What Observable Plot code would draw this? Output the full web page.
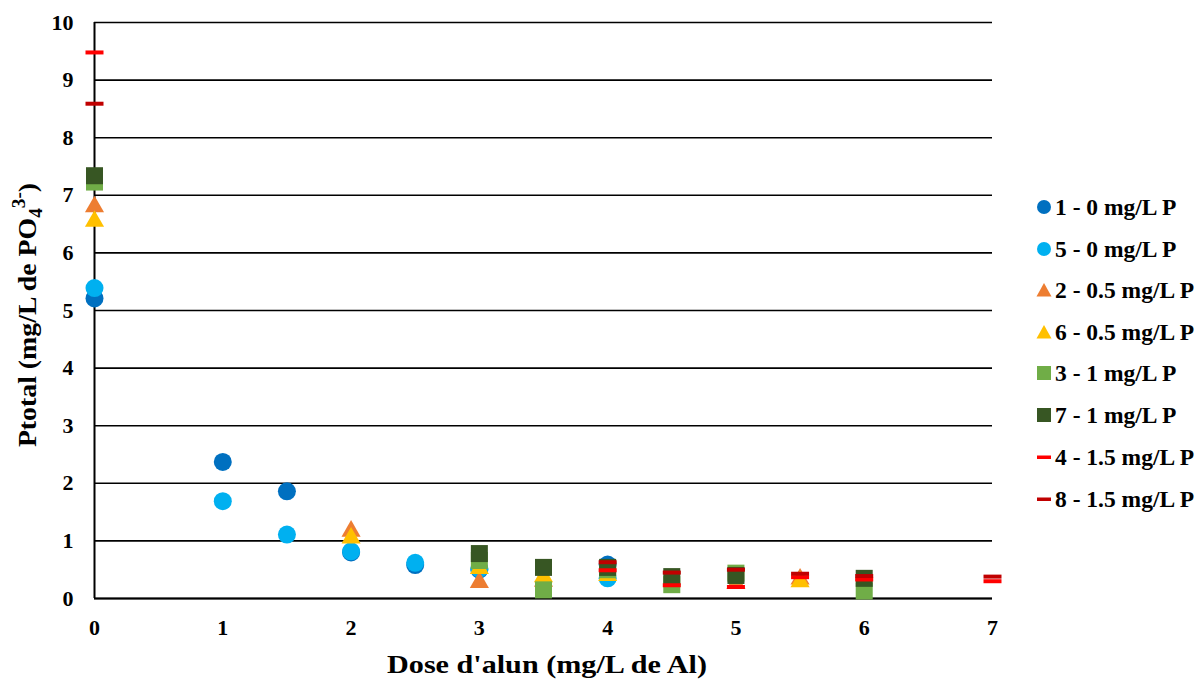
<!DOCTYPE html>
<html><head><meta charset="utf-8">
<script src="https://cdn.jsdelivr.net/npm/d3@7"></script>
<script src="https://cdn.jsdelivr.net/npm/@observablehq/plot@0.6"></script>
<style>
body{margin:0;background:#fff;}
#wrap{position:relative;width:1201px;height:679px;font-family:'Liberation Serif','DejaVu Serif',serif;}
#legend{position:absolute;left:1036px;top:0;}
.row{position:absolute;left:0;display:flex;align-items:center;white-space:nowrap;font-weight:bold;font-size:23.5px;color:#000;height:26px;font-family:'Liberation Serif','DejaVu Serif',serif;}
.row svg{margin-right:3px;}
</style></head><body><div id="wrap"><div id="chart"></div><div id="legend"></div></div>
<script>
const xTicks = [0, 1, 2, 3, 4, 5, 6, 7];
const yTicks = [0, 1, 2, 3, 4, 5, 6, 7, 8, 9, 10];
const xTitle = "Dose d'alun (mg/L de Al)";

const seriesNames = ["1 - 0 mg/L P", "5 - 0 mg/L P", "2 - 0.5 mg/L P", "6 - 0.5 mg/L P", "3 - 1 mg/L P", "7 - 1 mg/L P", "4 - 1.5 mg/L P", "8 - 1.5 mg/L P"];
const seriesColors = ["#0070C0", "#00B0F0", "#ED7D31", "#FFC000", "#70AD47", "#375623", "#FF0000", "#C00000"];
const seriesShapes = ["circle", "circle", "triangle", "triangle", "square", "square", "dash", "dash"];

const s1X = [0, 1, 1.5, 2, 2.5, 3, 4];
const s1Y = [5.21, 2.37, 1.86, 0.80, 0.58, 0.50, 0.59];
const s5X = [0, 1, 1.5, 2, 2.5, 3, 4];
const s5Y = [5.39, 1.69, 1.11, 0.82, 0.62, 0.52, 0.35];
const s2X = [0, 2, 3, 3.5, 5, 5.5];
const s2Y = [6.80, 1.17, 0.28, 0.30, 0.26, 0.34];
const s6X = [0, 2, 3, 3.5, 4, 5.5];
const s6Y = [6.55, 1.05, 0.52, 0.38, 0.40, 0.29];
const s3X = [0, 3, 3.5, 4, 4.5, 5, 6];
const s3Y = [7.23, 0.66, 0.15, 0.50, 0.24, 0.44, 0.13];
const s7X = [0, 3, 3.5, 4, 4.5, 5, 6];
const s7Y = [7.34, 0.78, 0.54, 0.54, 0.38, 0.40, 0.35];
const s4X = [0, 4, 4.5, 5, 5.5, 6, 7];
const s4Y = [9.48, 0.49, 0.23, 0.20, 0.37, 0.33, 0.30];
const s8X = [0, 4, 4.5, 5, 5.5, 6, 7];
const s8Y = [8.59, 0.63, 0.45, 0.50, 0.43, 0.39, 0.38];

const seriesX = [s1X, s5X, s2X, s6X, s3X, s7X, s4X, s8X];
const seriesY = [s1Y, s5Y, s2Y, s6Y, s3Y, s7Y, s4Y, s8Y];

const dash = {draw(ctx, size) { ctx.rect(-9, -2, 18, 4); }};
const symFor = s => s === "dash" ? dash : s;
const rFor = s => s === "circle" ? 9 : s === "triangle" ? 7.1 : s === "square" ? 9.6 : 5;

const serif = "'Liberation Serif', 'DejaVu Serif', serif";

const marks = [
  Plot.ruleY(yTicks, {x1: 0, x2: 7, y: d => d, stroke: "#000", strokeWidth: 1.6}),
  Plot.ruleX([0], {y1: 0, y2: 10, stroke: "#000", strokeWidth: 2}),
  Plot.ruleY([0], {x1: 0, x2: 7, stroke: "#000", strokeWidth: 2.2}),
  Plot.axisX({ticks: xTicks, tickSize: 0, tickPadding: 21, tickFormat: d => String(d), label: null, fontSize: 22, fontWeight: "bold", fontFamily: serif}),
  Plot.axisY({ticks: yTicks, tickSize: 0, tickPadding: 21, tickFormat: d => String(d), label: null, fontSize: 22, fontWeight: "bold", fontFamily: serif})
];
seriesNames.forEach((name, i) => {
  const data = seriesX[i].map((x, j) => ({x, y: seriesY[i][j]}));
  marks.push(Plot.dot(data, {
    x: "x", y: "y",
    symbol: symFor(seriesShapes[i]),
    r: rFor(seriesShapes[i]),
    fill: seriesColors[i], stroke: "none"
  }));
});

const chart = Plot.plot({
  width: 1201, height: 679,
  marginLeft: 94, marginRight: 209, marginTop: 22, marginBottom: 81,
  x: {domain: [0, 7], label: null},
  y: {domain: [0, 10], label: null},
  style: {fontFamily: serif, fontSize: "22px", fontWeight: "bold", color: "#000", background: "#fff"},
  marks
});
document.getElementById("chart").appendChild(chart);

const svg = d3.select(chart);
// x axis title
svg.append("text")
  .attr("transform", "translate(547,673) scale(1.16,1)")
  .attr("text-anchor", "middle")
  .style("font-family", serif).style("font-weight", "bold").style("font-size", "26px")
  .attr("fill", "#000")
  .text(xTitle);
// y axis title with subscript and superscript
const yt = svg.append("text")
  .attr("transform", "translate(36,315) rotate(-90) scale(1.07,1)")
  .attr("text-anchor", "middle")
  .style("font-family", serif).style("font-weight", "bold").style("font-size", "26px")
  .attr("fill", "#000");
yt.append("tspan").text("Ptotal (mg/L de PO");
yt.append("tspan").style("font-size", "18px").attr("dy", 6).text("4");
yt.append("tspan").style("font-size", "18px").attr("dy", -17).text("3-");
yt.append("tspan").attr("dy", 11).text(")");

// legend
const legend = d3.select("#legend");
const rowY = [207, 249, 290, 332, 373, 415, 457, 499];
seriesNames.forEach((name, i) => {
  const row = legend.append("div").attr("class", "row").style("top", (rowY[i] - 13) + "px");
  const s = row.append("svg").attr("width", 16).attr("height", 16);
  const c = seriesColors[i], sh = seriesShapes[i];
  if (sh === "circle") s.append("circle").attr("cx", 8).attr("cy", 8).attr("r", 7).attr("fill", c);
  else if (sh === "triangle") s.append("path").attr("d", "M8,1 L15.5,14.5 L0.5,14.5 Z").attr("fill", c);
  else if (sh === "square") s.append("rect").attr("x", 1).attr("y", 1).attr("width", 14).attr("height", 14).attr("fill", c);
  else s.append("rect").attr("x", 1).attr("y", 6.5).attr("width", 14).attr("height", 3.5).attr("fill", c);
  row.append("span").text(name);
});
</script>
</body></html>
